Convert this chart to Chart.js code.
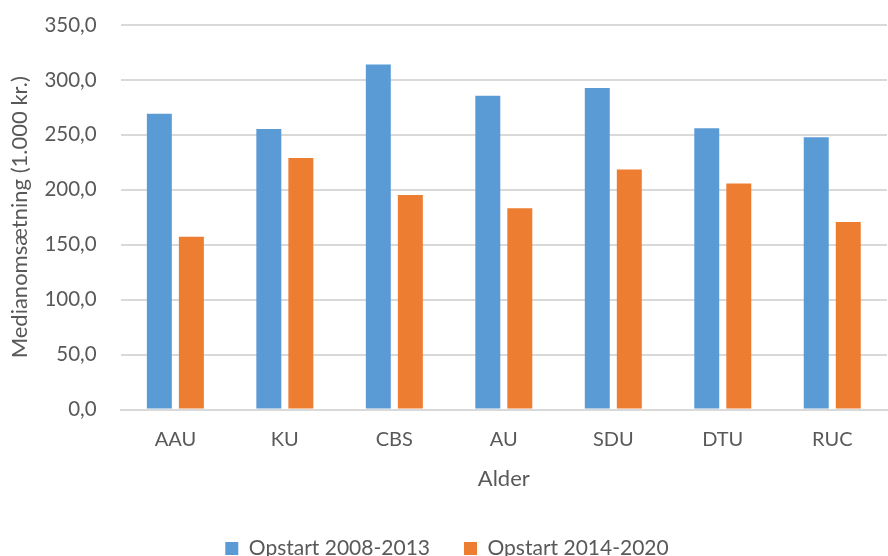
<!DOCTYPE html>
<html>
<head>
<meta charset="utf-8">
<script src="https://cdn.jsdelivr.net/npm/chart.js@4/dist/chart.umd.min.js"></script>
<style>
  html, body { margin: 0; padding: 0; background: #fff; }
  #wrap { width: 888px; height: 556px; }
</style>
</head>
<body>
<div id="wrap"><canvas id="medianChart" width="888" height="556"></canvas></div>
<script>
// data
const categories = ["AAU", "KU", "CBS", "AU", "SDU", "DTU", "RUC"];
const opstart2008 = [269.2, 255.4, 314.0, 285.6, 292.7, 256.1, 247.9];
const opstart2014 = [157.3, 228.9, 195.4, 183.2, 218.6, 205.8, 170.8];
const seriesNames = ["Opstart 2008-2013", "Opstart 2014-2020"];

const textColor = "#595959";
const gridColor = "#d9d9d9";
const fontFamily = "Lato, 'Open Sans', sans-serif";

document.addEventListener("DOMContentLoaded", function () {
    const ctx = document.getElementById("medianChart").getContext("2d");
    new Chart(ctx, {
        type: "bar",
        data: {
            labels: categories,
            datasets: [{
                label: seriesNames[0],
                data: opstart2008,
                backgroundColor: "#5B9BD5",
                categoryPercentage: 0.585,
                barPercentage: 0.78
            }, {
                label: seriesNames[1],
                data: opstart2014,
                backgroundColor: "#ED7D31",
                categoryPercentage: 0.585,
                barPercentage: 0.78
            }]
        },
        options: {
            responsive: false,
            animation: false,
            layout: { padding: { top: 25, right: 1, left: 7, bottom: -13 } },
            plugins: {
                legend: {
                    position: "bottom",
                    labels: {
                        color: textColor,
                        font: { family: fontFamily, size: 21 },
                        boxWidth: 13,
                        boxHeight: 13,
                        padding: 34
                    }
                },
                tooltip: { enabled: false }
            },
            scales: {
                x: {
                    grid: { display: false },
                    border: { color: gridColor, width: 2 },
                    ticks: {
                        color: textColor,
                        font: { family: fontFamily, size: 20 },
                        padding: 10
                    },
                    title: {
                        display: true,
                        text: "Alder",
                        color: textColor,
                        font: { family: fontFamily, size: 22 },
                        padding: { top: 4, bottom: 12 }
                    }
                },
                y: {
                    min: 0,
                    max: 350,
                    border: { display: false },
                    grid: { color: gridColor, lineWidth: 2, drawTicks: false },
                    ticks: {
                        stepSize: 50,
                        color: textColor,
                        font: { family: fontFamily, size: 20.5 },
                        padding: 24,
                        callback: v => v.toFixed(1).replace(".", ",")
                    },
                    // tick padding would otherwise push the top of the plot down
                    afterFit: scale => {
                        scale.paddingTop = 0;
                        scale.paddingBottom = 0;
                    },
                    title: {
                        display: true,
                        text: "Medianomsætning (1.000 kr.)",
                        color: textColor,
                        font: { family: fontFamily, size: 22 },
                        padding: { top: 0, bottom: -13 }
                    }
                }
            }
        }
    });
});
</script>
</body>
</html>
